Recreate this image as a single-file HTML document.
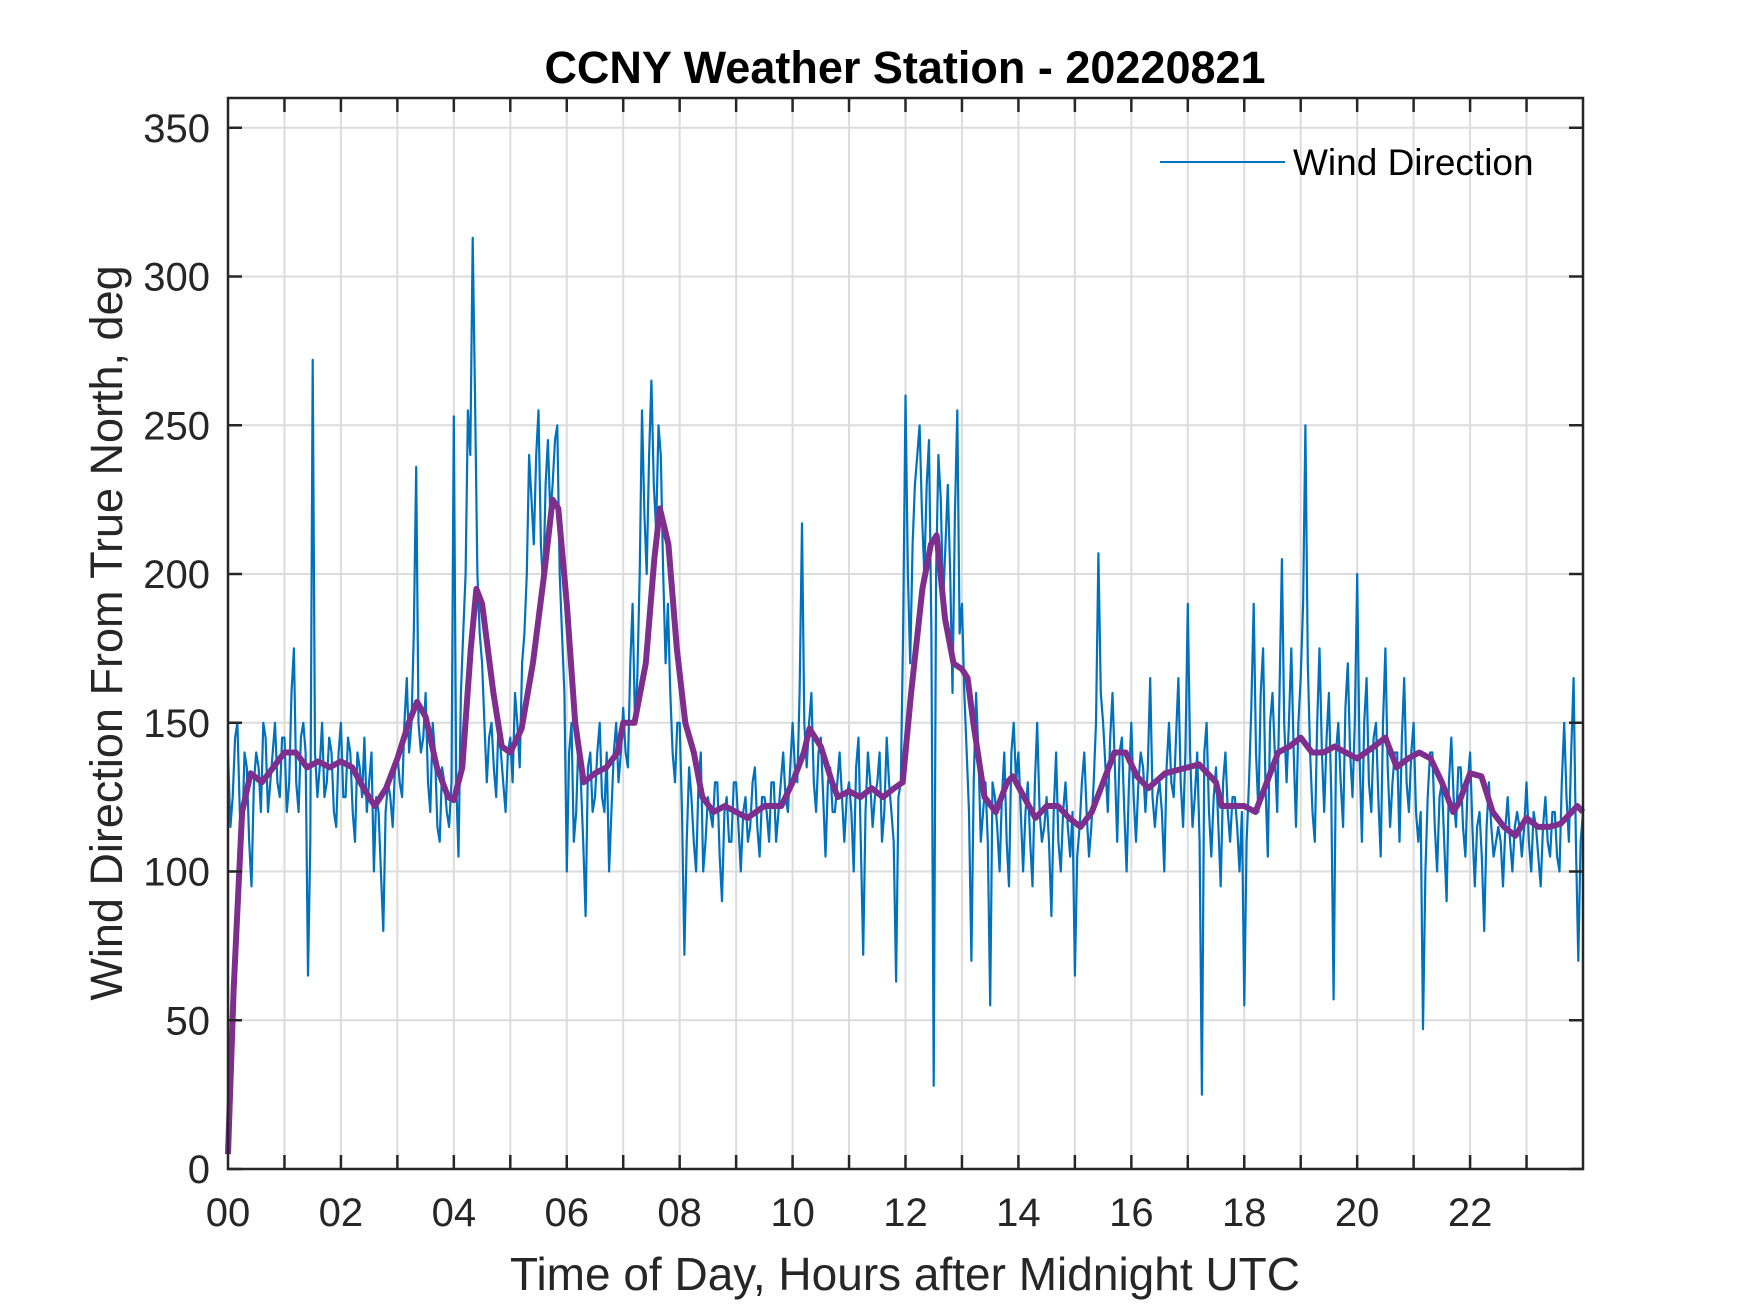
<!DOCTYPE html>
<html><head><meta charset="utf-8"><style>
html,body{margin:0;padding:0;background:#fff;}
svg{display:block;font-family:"Liberation Sans",Arial,sans-serif;}
</style></head><body>
<svg id="chart" width="1750" height="1313" viewBox="0 0 1750 1313" xmlns="http://www.w3.org/2000/svg">
<rect width="1750" height="1313" fill="#fff"/>
<g id="grid"></g>
<g id="series"></g>
<g id="axes"></g>
<text x="905" y="83" text-anchor="middle" font-size="45" font-weight="bold" fill="#000">CCNY Weather Station - 20220821</text>
<text x="905" y="1290" text-anchor="middle" font-size="46" fill="#262626">Time of Day, Hours after Midnight UTC</text>
<text transform="translate(106,633) rotate(-90)" text-anchor="middle" font-size="45" fill="#262626" dy="0.35em">Wind Direction From True North, deg</text>
<g>
<line x1="1160" y1="162" x2="1285" y2="162" stroke="#0072BD" stroke-width="2"/>
<text x="1293" y="175" font-size="37" fill="#000">Wind Direction</text>
</g>
</svg>
<script>
const xTicks = [0,2,4,6,8,10,12,14,16,18,20,22];
const xTickLabels = ["00","02","04","06","08","10","12","14","16","18","20","22"];
const yTicks = [0,50,100,150,200,250,300,350];
const windValues = [
140,125,150,110,135,95,140,120,145,130,150,125,
145,130,175,120,150,65,272,125,150,130,140,115,
150,125,140,110,135,145,130,100,120,80,130,115,
140,125,165,150,236,140,160,120,140,110,130,115,
253,105,180,255,313,200,170,130,150,125,140,120,
145,160,135,180,240,210,255,195,245,230,250,180,
100,150,120,130,85,140,125,150,120,100,140,130,
155,135,190,165,255,200,265,215,240,170,160,130,
150,72,135,110,130,100,125,115,130,90,125,110,
130,100,125,115,135,105,125,110,130,120,140,120,
150,130,217,135,160,120,145,105,135,120,140,110,
130,100,145,72,140,115,130,110,145,120,63,130,
260,170,230,250,200,245,28,240,190,230,160,255,
190,140,70,160,110,130,55,125,100,140,95,150,
140,100,130,95,150,110,125,85,140,100,130,105,
65,115,140,105,130,207,150,120,160,110,145,100,
150,110,140,120,165,115,130,100,150,125,165,115,
190,115,140,25,150,105,135,95,140,110,125,100,
55,130,190,120,175,105,160,120,205,130,175,115,
165,250,140,110,175,120,160,57,150,115,170,125,
200,110,165,120,150,105,175,115,140,110,165,120,
150,110,47,125,140,100,130,90,145,115,135,105,
140,95,120,80,130,105,115,95,125,100,120,105,
130,100,115,95,125,105,120,100,150,110,165,70,120];
const windMidValues = [
115,145,120,140,110,130,135,150,120,140,130,145,
120,160,130,145,140,110,140,135,125,145,120,140,
125,145,120,140,125,120,140,125,100,120,125,135,
130,150,140,180,150,145,130,150,115,135,120,130,
130,160,200,240,260,180,150,145,135,150,130,140,
130,150,170,200,225,240,210,230,220,245,200,160,
140,110,145,110,135,120,140,125,140,120,150,140,
140,170,150,200,220,240,230,250,200,190,140,150,
120,110,125,100,140,110,120,130,105,120,110,130,
115,120,110,130,115,125,120,130,110,130,125,135,
135,160,150,150,130,140,125,130,120,130,125,125,
120,135,110,120,130,125,140,120,130,110,125,180,
200,210,240,220,230,180,200,225,210,200,220,180,
160,120,130,140,120,110,130,115,125,110,140,130,
120,120,110,130,120,115,110,120,110,120,115,120,
105,130,120,115,150,160,135,145,135,140,120,130,
125,130,135,135,125,125,120,135,130,145,130,140,
140,125,110,140,120,125,115,130,120,125,115,120,
110,155,140,160,130,150,140,160,150,150,140,150,
190,170,120,150,140,145,125,140,130,155,140,150,
140,150,130,145,125,150,135,130,140,145,130,140,
120,120,100,140,115,125,110,130,125,135,115,130,
115,115,105,115,115,110,110,115,110,115,115,115,
110,120,105,115,110,120,105,130,125,140,110,110];
const trendHours = [0,0.1,0.25,0.4,0.6,0.8,1.0,1.2,1.4,1.6,1.8,2.0,2.2,2.4,2.6,2.8,3.0,3.2,3.35,3.5,3.7,3.9,4.0,4.15,4.3,4.4,4.5,4.7,4.85,5.0,5.2,5.4,5.6,5.75,5.85,6.0,6.15,6.3,6.5,6.7,6.9,7.0,7.2,7.4,7.55,7.65,7.8,7.95,8.1,8.25,8.4,8.6,8.8,9.0,9.2,9.5,9.8,10.0,10.2,10.3,10.5,10.7,10.8,11.0,11.2,11.4,11.6,11.8,11.95,12.1,12.3,12.45,12.55,12.7,12.85,13.0,13.1,13.2,13.4,13.6,13.8,13.9,14.1,14.3,14.5,14.7,14.9,15.1,15.3,15.5,15.7,15.9,16.1,16.3,16.6,17.0,17.2,17.5,17.6,17.8,18.0,18.2,18.4,18.6,18.8,19.0,19.2,19.4,19.6,19.8,20.0,20.3,20.5,20.7,20.9,21.1,21.3,21.5,21.7,21.8,22.0,22.2,22.4,22.6,22.8,23.0,23.2,23.4,23.6,23.8,23.9,24];
const trendValues = [5,60,120,133,130,135,140,140,135,137,135,137,135,128,122,128,138,150,157,152,135,125,124,135,175,195,190,160,142,140,148,170,200,225,222,190,150,130,133,135,140,150,150,170,205,222,210,175,150,140,125,120,122,120,118,122,122,130,140,148,142,130,125,127,125,128,125,128,130,160,195,210,213,185,170,168,165,150,125,120,130,132,125,118,122,122,118,115,120,130,140,140,132,128,133,135,136,130,122,122,122,120,130,140,142,145,140,140,142,140,138,142,145,135,138,140,138,130,120,123,133,132,120,115,112,118,115,115,116,120,122,120];

const L=228,R=1583,T=98,B=1169;
const xS=h=>L+(R-L)*h/24;
const yS=v=>B-(B-T)*v/360;
const NS="http://www.w3.org/2000/svg";
function mk(tag,attrs,parent){const e=document.createElementNS(NS,tag);for(const k in attrs)e.setAttribute(k,attrs[k]);parent.appendChild(e);return e;}
const grid=document.getElementById('grid'),series=document.getElementById('series'),axes=document.getElementById('axes');
for(let h=1;h<24;h++){
  const g=mk('line',{x1:xS(h),x2:xS(h),y1:T,y2:B,stroke:'#dcdcdc','stroke-width':2},grid);
  
  
}
yTicks.forEach(v=>{
  if(v===0)return;
  const g=mk('line',{x1:L,x2:R,y1:yS(v),y2:yS(v),stroke:'#dcdcdc','stroke-width':2},grid);
  
  
});
const step=24/(windValues.length-1);
const windPts=[];
windValues.forEach((v,i)=>{
  windPts.push([i*step,v]);
  if(i<windMidValues.length) windPts.push([(i+0.5)*step,windMidValues[i]]);
});
let pts=windPts.map(p=>xS(p[0]).toFixed(1)+','+yS(p[1]).toFixed(1)).join(' ');
const wl=mk('polyline',{points:pts,fill:'none',stroke:'#0072BD','stroke-width':2.2,'stroke-linejoin':'round'},series);


pts=trendHours.map((h,i)=>xS(h).toFixed(1)+','+yS(trendValues[i]).toFixed(1)).join(' ');
const tl=mk('polyline',{points:pts,fill:'none',stroke:'#7E2F8E','stroke-width':6,'stroke-linejoin':'round'},series);


const box=mk('rect',{x:L,y:T,width:R-L,height:B-T,fill:'none',stroke:'#262626','stroke-width':2.5},axes);


for(let h=1;h<24;h++){
  const t1=mk('line',{x1:xS(h),x2:xS(h),y1:B,y2:B-14,stroke:'#262626','stroke-width':2.5},axes);
  
  
  const t2=mk('line',{x1:xS(h),x2:xS(h),y1:T,y2:T+14,stroke:'#262626','stroke-width':2.5},axes);
  
  
}
xTicks.forEach((h,i)=>{
  const t=mk('text',{x:xS(h),y:1226,'text-anchor':'middle','font-size':40,fill:'#262626'},axes);
  t.textContent=xTickLabels[i];
  
  
});
yTicks.forEach(v=>{
  const t1=mk('line',{x1:L,x2:L+14,y1:yS(v),y2:yS(v),stroke:'#262626','stroke-width':2.5},axes);
  
  
  const t2=mk('line',{x1:R,x2:R-14,y1:yS(v),y2:yS(v),stroke:'#262626','stroke-width':2.5},axes);
  
  
  const t=mk('text',{x:210,y:yS(v)+14,'text-anchor':'end','font-size':40,fill:'#262626'},axes);
  t.textContent=String(v);
  
  
});
</script>
</body></html>
